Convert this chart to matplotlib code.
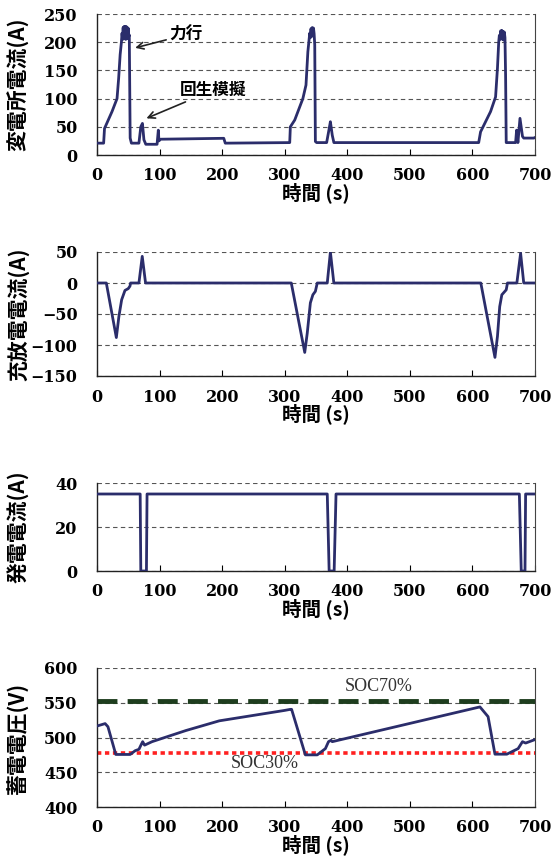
import matplotlib
matplotlib.use("Agg")
import matplotlib.pyplot as plt
import numpy as np

# ---------------- data ----------------
# Panel 1: substation current (A)
t1 = [0, 10.6, 12, 24, 32, 34.6, 37, 39, 40, 41, 41.8, 42.6, 43.4, 44.2, 45, 45.8, 46.6, 47.4,
      48.2, 49, 49.8, 50.6, 51.6, 53, 55,
      67, 70, 72.6, 75, 78, 96, 98, 99, 101.6, 202.6, 205,
      308, 309, 316, 329, 334, 337, 339, 340, 341, 342, 343, 344, 345, 346, 347, 348, 349, 351,
      367, 370.6, 373, 376, 378.6,
      610, 613, 629, 637, 640, 642, 643, 644, 645, 646, 647, 648, 649, 650, 651, 652, 653, 654,
      669, 670.6, 672.7, 676, 680, 682, 698, 700]
i1 = [21, 21, 47, 77, 100, 136, 178, 200, 216, 205, 226, 206, 228, 207, 227, 205, 228, 206,
      226, 207, 225, 210, 213, 30, 21,
      21, 50, 56, 27, 19, 19, 44, 25, 28, 29.6, 21,
      22, 50, 62, 100, 124, 183, 205, 216, 208, 224, 210, 226, 212, 225, 215, 195, 24, 22,
      22, 44, 59, 35, 22,
      22, 41, 77, 103, 154, 200, 212, 205, 220, 206, 221, 205, 219, 204, 218, 208, 142, 22,
      22, 44, 22, 65, 33, 30, 30, 31]

# Panel 2: charge/discharge current (A)
t2 = [0, 14.9, 30.9, 35, 39.4, 44.7, 50, 52.7, 53.7, 67, 72.3, 77.6,
      310.5, 332, 336, 341, 345, 349, 352, 368, 373, 378.5,
      613.4, 636, 640, 643.6, 647, 654, 656, 671, 677, 682, 700]
i2 = [0, 0, -88, -54, -27, -12, -9, -5, 0, 0, 43, 0,
      0, -112, -81, -32, -19, -13.5, 0, 0, 50, 0,
      0, -120, -86, -38, -19, -11, 0, 0, 48, 0, 0]

# Panel 3: generator current (A)
t3 = [0, 69, 70, 79, 80, 368, 371, 379, 382, 675, 678, 684, 685, 700]
i3 = [35, 35, 0, 0, 35, 35, 0, 0, 35, 35, 0, 0, 35, 35]

# Panel 4: storage voltage (V)
t4 = [0, 13, 17.5, 30, 53, 61, 67, 71, 73, 76, 88, 142, 195.5, 300, 309,
      311, 333, 352, 365, 370, 374, 376, 612,
      625, 636, 655, 673, 680, 685, 700]
v4 = [516.5, 520, 515.5, 475.6, 475.6, 481, 483, 490.5, 494, 489, 494, 510, 524, 539, 540.5,
      540.5, 475, 475, 484, 494, 496, 494, 544,
      530, 476, 476, 484, 494, 492, 497]
soc70 = 553
soc30 = 477

xticks = [0, 100, 200, 300, 400, 500, 600, 700]
panels = [
    dict(t=t1, y=i1, ylim=(0, 250), yticks=[0, 50, 100, 150, 200, 250], ylabel="変電所電流(A)"),
    dict(t=t2, y=i2, ylim=(-150, 50), yticks=[-150, -100, -50, 0, 50], ylabel="充放電電流(A)"),
    dict(t=t3, y=i3, ylim=(0, 40), yticks=[0, 20, 40], ylabel="発電電流(A)"),
    dict(t=t4, y=v4, ylim=(400, 600), yticks=[400, 450, 500, 550, 600], ylabel="蓄電電圧(V)"),
]

# ---------------- layout ----------------
W, H = 551, 867
fig = plt.figure(figsize=(W / 100, H / 100), dpi=100)
left_px, right_px = 97, 535
boxes = [(14, 155), (252, 376), (483, 571), (668, 807)]  # top, bottom in px
xlabel_off = 38
LINE = "#2b2d6b"
CJK = ["Noto Sans CJK JP", "DejaVu Sans"]

for k, (p, (top, bot)) in enumerate(zip(panels, boxes)):
    ax = fig.add_axes([left_px / W, 1 - bot / H, (right_px - left_px) / W, (bot - top) / H])
    ax.plot(p["t"], p["y"], color=LINE, lw=2.0, solid_joinstyle="round", zorder=3)
    ax.set_xlim(0, 700)
    ax.set_ylim(*p["ylim"])
    ax.set_xticks(xticks)
    ax.set_yticks(p["yticks"])
    for yv in p["yticks"]:
        ax.axhline(yv, color="#555555", lw=0.8, ls=(0, (4, 3)), zorder=1)
    ax.tick_params(axis="x", direction="in", length=4, width=0.8, pad=9, labelsize=11.5)
    ax.tick_params(axis="y", length=0, pad=14, labelsize=11.5)
    for lab in ax.get_xticklabels() + ax.get_yticklabels():
        lab.set_fontfamily("DejaVu Serif")
        lab.set_fontweight("bold")
    ax.spines["top"].set_visible(False)
    for s in ["left", "bottom"]:
        ax.spines[s].set_linewidth(1.0)
        ax.spines[s].set_color("#222222")
    ax.spines["right"].set_linewidth(0.8)
    ax.spines["right"].set_color("#444444")
    # axis labels
    fig.text(18 / W, 1 - (top + bot) / 2 / H, p["ylabel"], rotation=90, ha="center", va="center",
             family=CJK, fontweight="bold", fontsize=15)
    fig.text((left_px + right_px) / 2 / W, 1 - (bot + xlabel_off) / H, "時間 (s)", ha="center",
             va="center", family=CJK, fontweight="bold", fontsize=14)

    if k == 0:
        ax.annotate("力行", xy=(61, 190), xytext=(115, 213), family=CJK, fontsize=12,
                    fontweight="bold", va="center", ha="left",
                    arrowprops=dict(arrowstyle="->", color="#222222", lw=1.2, shrinkA=0, shrinkB=0))
        ax.annotate("回生模擬", xy=(79, 65), xytext=(133, 115), family=CJK, fontsize=12,
                    fontweight="bold", va="center", ha="left",
                    arrowprops=dict(arrowstyle="->", color="#222222", lw=1.2, shrinkA=0, shrinkB=0))
    if k == 3:
        ax.axhline(soc70, color="#1e3d1e", lw=3.5, ls=(0, (4.1, 2.1)), zorder=2)
        ax.axhline(soc30, color="#ff2020", lw=2.6, ls=(0, (1.2, 1.0)), zorder=2)
        ax.text(450, 573, "SOC70%", family="Liberation Serif", fontsize=13, color="#333333",
                ha="center", va="center")
        ax.text(268, 462, "SOC30%", family="Liberation Serif", fontsize=13, color="#333333",
                ha="center", va="center")

fig.savefig("out.png", dpi=100)
